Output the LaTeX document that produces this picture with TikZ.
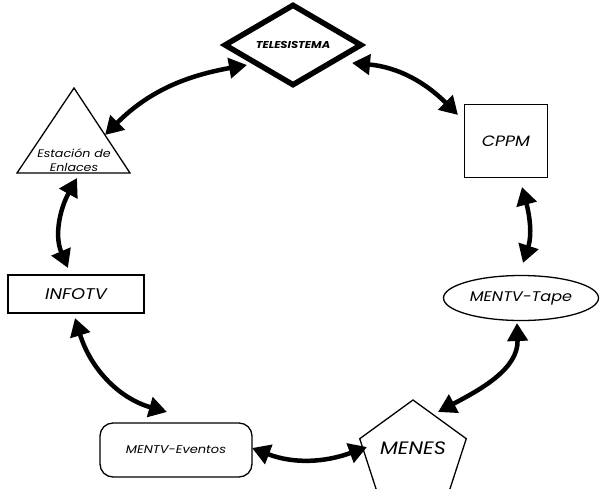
\documentclass[tikz,border=0pt]{standalone}
\usepackage{fontspec}
\setmainfont{Poppins}
\newfontfamily\gf{Poppins}[FakeStretch=1.15]
\usetikzlibrary{shapes.geometric,arrows.meta,calc}
\begin{document}
\begin{tikzpicture}[x=1pt,y=1pt,
  box/.style={draw, line width=1.3pt, inner sep=0pt},
  link/.style={line width=4.5pt, {Triangle[length=18pt,width=20pt]}-{Triangle[length=18pt,width=20pt]}}
]
\useasboundingbox (0,0) rectangle (600,-488);
% nodes
\node[box, diamond, line width=5.5pt, minimum width=138pt, minimum height=70pt,
      font=\gf\itshape\bfseries\fontsize{10}{12}\selectfont] (tele) at (293,-45) {TELESISTEMA};
\node[box, rectangle, minimum width=83pt, minimum height=73pt,
      font=\gf\itshape\fontsize{15}{17}\selectfont] (cppm) at (506,-141) {CPPM};
\node[box, ellipse, minimum width=155pt, minimum height=45pt,
      font=\gf\itshape\fontsize{14}{16}\selectfont] (tape) at (521,-298) {MENTV-Tape};
\node[box, regular polygon, regular polygon sides=5, minimum size=112pt,
      label={[font=\gf\itshape\fontsize{18}{20}\selectfont, yshift=8pt]center:MENES}] (menes) at (413,-456) {};
\node[box, rectangle, rounded corners=13pt, minimum width=152pt, minimum height=54pt,
      font=\gf\itshape\fontsize{11.3}{13}\selectfont] (evt) at (176,-450) {MENTV-Eventos};
\node[box, rectangle, minimum width=136pt, minimum height=38pt,
      font=\gf\itshape\fontsize{15.5}{17}\selectfont] (info) at (76,-294) {INFOTV};
% triangle
\coordinate (estA) at (74,-88);
\coordinate (estL) at (17,-173);
\coordinate (estR) at (130,-173);
\draw[line width=1.3pt, line join=miter] (estA) -- (estL) -- (estR) -- cycle;
\node[align=center, inner sep=0pt, font=\gf\itshape\fontsize{11}{14}\selectfont] (est) at (74,-160) {Estación de\\Enlaces};
% connectors
\draw[link] ($(tele)+(-46,-20)$) to[out=190,in=45] ($(est)+(31,25)$);
\draw[link] ($(tele)+(59,-18)$) to[out=-5,in=135] ($(cppm)+(-48,26)$);
\draw[link] ($(cppm)+(16,-46)$) to[out=-75,in=72] ($(tape)+(2,35)$);
\draw[link] ($(tape)+(-4,-25)$) to[out=-88,in=28] ($(menes)+(25,44)$);
\draw[link] ($(menes)+(-46,9)$) to[out=200,in=-21] ($(evt)+(76,2)$);
\draw[link] ($(evt)+(-9,38)$) to[out=164,in=-73] ($(info)+(-1,-24)$);
\draw[link] ($(info)+(-8,26)$) to[out=113,in=-119] ($(est)+(3,-18)$);
\end{tikzpicture}
\end{document}
